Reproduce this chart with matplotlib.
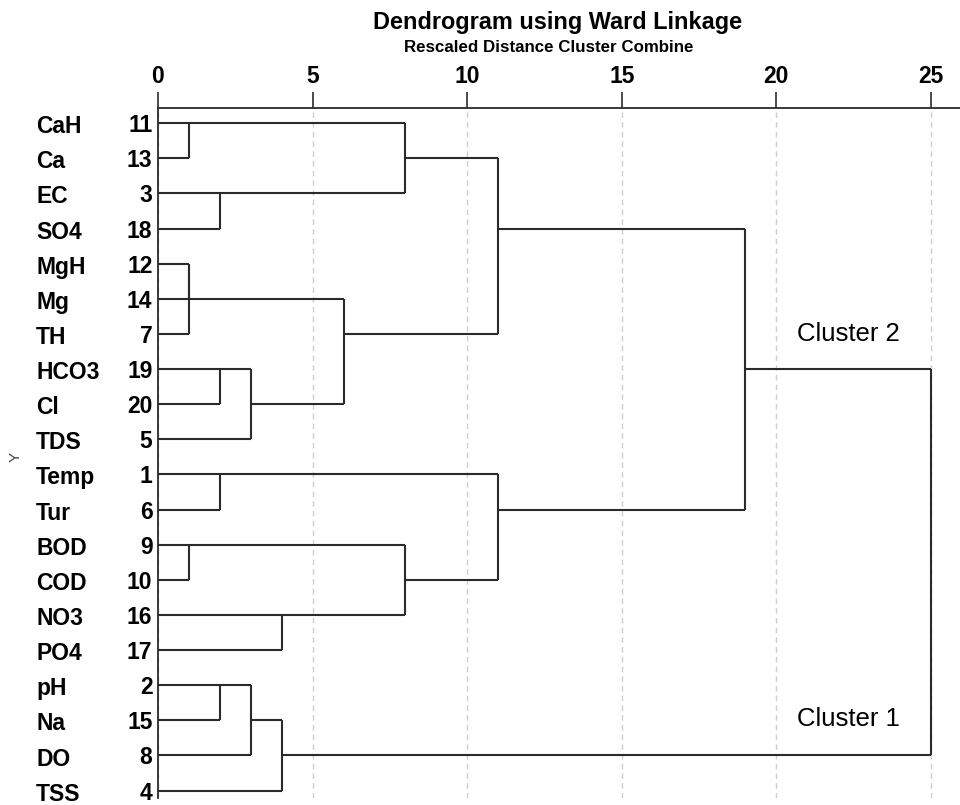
import numpy as np
import matplotlib
matplotlib.use("Agg")
from matplotlib import pyplot as plt
from matplotlib.transforms import blended_transform_factory

plt.rcParams["font.family"] = ["Liberation Sans", "DejaVu Sans"]

# leaves in display order (top to bottom)
variables = ["CaH", "Ca", "EC", "SO4", "MgH", "Mg", "TH", "HCO3", "Cl", "TDS",
             "Temp", "Tur", "BOD", "COD", "NO3", "PO4", "pH", "Na", "DO", "TSS"]
case_numbers = [11, 13, 3, 18, 12, 14, 7, 19, 20, 5,
                1, 6, 9, 10, 16, 17, 2, 15, 8, 4]

# merge steps (scipy style: new node id = 20 + step index)
merge_a = [0, 2, 20, 4, 23, 7, 25, 24, 22, 10, 12, 14, 30, 29, 28, 16, 35, 36, 34]
merge_b = [1, 3, 21, 5, 6, 8, 9, 26, 27, 11, 13, 15, 31, 32, 33, 17, 18, 19, 37]
merge_dist = [1, 2, 8, 1, 1, 2, 3, 6, 11, 2, 1, 4, 8, 11, 19, 2, 3, 4, 25]

x_ticks = [0, 5, 10, 15, 20, 25]

LINE = "#2b2b2b"

fig = plt.figure(figsize=(9.6, 8.05), dpi=100)
ax = fig.add_axes([158 / 960, 1 - 798 / 805, 1 - 158 / 960, (798 - 108) / 805])

n = len(variables)
row = {i: i for i in range(n)}
height = {i: 0.0 for i in range(n)}

for k, (a, b, d) in enumerate(zip(merge_a, merge_b, merge_dist)):
    ra, rb = row[a], row[b]
    ax.plot([height[a], d], [ra, ra], color=LINE, lw=1.5, solid_capstyle="butt")
    ax.plot([height[b], d], [rb, rb], color=LINE, lw=1.5, solid_capstyle="butt")
    ax.plot([d, d], [ra, rb], color=LINE, lw=1.5, solid_capstyle="butt")
    node = n + k
    row[node] = (ra + rb) // 2
    height[node] = d

ax.set_xlim(0, (960 - 158) / 30.92)
ax.set_ylim(19.21, -0.43)

for side in ["right", "bottom"]:
    ax.spines[side].set_visible(False)
for side in ["top", "left"]:
    ax.spines[side].set_color(LINE)
    ax.spines[side].set_linewidth(1.3)

ax.xaxis.tick_top()
ax.set_xticks(x_ticks)
ax.set_xticklabels([str(t) for t in x_ticks], fontsize=16.5, fontweight="bold")
ax.tick_params(axis="x", direction="out", length=11.5, width=1.2, color=LINE, pad=3)
ax.grid(axis="x", color="#cfcfcf", linestyle=(0, (4, 3)), linewidth=1)
ax.set_axisbelow(True)

ax.set_yticks(range(n))
ax.set_yticklabels([str(c) for c in case_numbers], fontsize=16.5, fontweight="bold")
ax.tick_params(axis="y", length=0, pad=4)

trans = blended_transform_factory(fig.transFigure, ax.transData)
for i, name in enumerate(variables):
    ax.text(36 / 960, i + 0.1, name, transform=trans, ha="left", va="center",
            fontsize=16.5, fontweight="bold")

ax.text(20.67, 6.0, "Cluster 2", fontsize=18.5, ha="left", va="center")
ax.text(20.67, 16.95, "Cluster 1", fontsize=18.5, ha="left", va="center")

fig.text(558 / 960, 1 - 22 / 805, "Dendrogram using Ward Linkage", ha="center", va="center",
         fontsize=16.9, fontweight="bold")
fig.text(549 / 960, 1 - 47 / 805, "Rescaled Distance Cluster Combine", ha="center", va="center",
         fontsize=12.2, fontweight="bold")
fig.text(16 / 960, 1 - 457 / 805, "Y", rotation=90, ha="center", va="center",
         fontsize=11, color="#444444")

fig.savefig("out.png", dpi=100)
